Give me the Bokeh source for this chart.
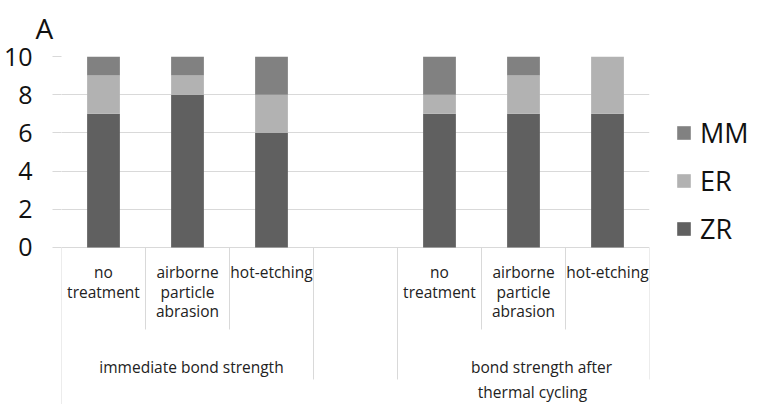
from bokeh.plotting import figure
from bokeh.models import (FactorRange, Range1d, FixedTicker, Legend, LegendItem,
                          ColumnDataSource)
from bokeh.core.properties import value
from bokeh.embed import file_html
from bokeh.resources import INLINE

# ---- data ----
conditions = ["immediate bond strength", "bond strength after\nthermal cycling"]
treatments = ["no\ntreatment", "airborne\nparticle\nabrasion", "hot-etching"]
series = ["ZR", "ER", "MM"]
zr = [7, 8, 6, 7, 7, 7]
er = [2, 1, 2, 1, 2, 3]
mm = [1, 1, 2, 2, 1, 0]
y_ticks = [0, 2, 4, 6, 8, 10]
colors = {"ZR": "#606060", "ER": "#b2b2b2", "MM": "#818181"}

FONT = "Open Sans"
GRID = "#d9d9d9"

bar_factors = [(c, t) for c in conditions for t in treatments]
blank = (" ", " ")
all_factors = [(conditions[0], t) for t in treatments] + [blank] + \
              [(conditions[1], t) for t in treatments]

source = ColumnDataSource(dict(x=bar_factors, ZR=zr, ER=er, MM=mm))

frame_w, frame_h = 588, 348
ymin, ymax = -8.22, 10.0
ppu = frame_h / (ymax - ymin)

p = figure(frame_width=frame_w, frame_height=frame_h,
           output_backend="svg", toolbar_location=None,
           x_range=FactorRange(factors=all_factors, group_padding=0,
                               factor_padding=0, range_padding=0),
           y_range=Range1d(ymin, ymax),
           min_border_left=0, min_border_top=0,
           min_border_right=0, min_border_bottom=0)
p.outline_line_color = None
p.xaxis.visible = False
p.xgrid.visible = False
p.background_fill_color = None

p.title.text = "A"
p.title.text_font = FONT
p.title.text_font_size = "28px"
p.title.text_font_style = "normal"
p.title.text_color = "#111111"
p.title.align = "left"
p.title.vertical_align = "top"
p.title.offset = -26
p.title.standoff = 16

yax = p.yaxis[0]
yax.ticker = FixedTicker(ticks=y_ticks)
yax.axis_line_color = None
yax.major_tick_in = 0
yax.major_tick_out = 9
yax.major_tick_line_color = GRID
yax.minor_tick_line_color = None
yax.major_label_text_font = FONT
yax.major_label_text_font_size = "25px"
yax.major_label_text_color = "#111111"
yax.major_label_standoff = 20
p.ygrid.grid_line_color = GRID
p.ygrid.grid_line_width = 1

rends = p.vbar_stack(series, x="x", width=0.39, source=source,
                     color=[colors[s] for s in series], line_color=None)

# ---- category separators under the bars ----
def px(d):
    return -d / ppu

sep_x, sep_y1 = [], []
for i, f in enumerate(all_factors):
    sep_x.append(f + (-0.5,))
    if i == 0:
        sep_y1.append(ymin)
    elif f == blank or all_factors[i - 1] == blank:
        sep_y1.append(px(132))
    else:
        sep_y1.append(px(82))
sep_x.append(all_factors[-1] + (0.5,))
sep_y1.append(px(132))
p.segment(x0=sep_x, x1=sep_x, y0=[0] * len(sep_x), y1=sep_y1,
          line_color=GRID, line_width=1)

# sub-category labels
p.text(x=bar_factors, y=[0] * len(bar_factors),
       text=[t for c, t in bar_factors], y_offset=14,
       text_font=value(FONT), text_font_size="15.5px", text_color="#222222",
       text_align="center", text_baseline="top", text_line_height=0.88)

# group labels (one text per line, as wrapped in the original)
gx, gt, gxo, gyo = [], [], [], []
line_dx = [[4], [18, 9]]
for ci, c in enumerate(conditions):
    for li, line in enumerate(c.split("\n")):
        gx.append((c, treatments[1]))
        gt.append(line)
        gxo.append(line_dx[ci][li])
        gyo.append(109 + 24.5 * li)
p.text(x=gx, y=[0] * len(gx), text=gt, x_offset=gxo, y_offset=gyo,
       text_font=value(FONT), text_font_size="15.5px", text_color="#222222",
       text_align="center", text_baseline="top")

# legend
items = [LegendItem(label=s, renderers=[rends[series.index(s)]])
         for s in ["MM", "ER", "ZR"]]
legend = Legend(items=items, location=(26, 157), orientation="vertical",
                glyph_width=17, glyph_height=17, label_standoff=8,
                label_text_font=FONT, label_text_font_size="27px",
                label_text_color="#111111", spacing=11, padding=0, margin=0,
                border_line_color=None, background_fill_color=None)
p.add_layout(legend, "right")

open("out.html", "w").write(file_html(p, INLINE))
